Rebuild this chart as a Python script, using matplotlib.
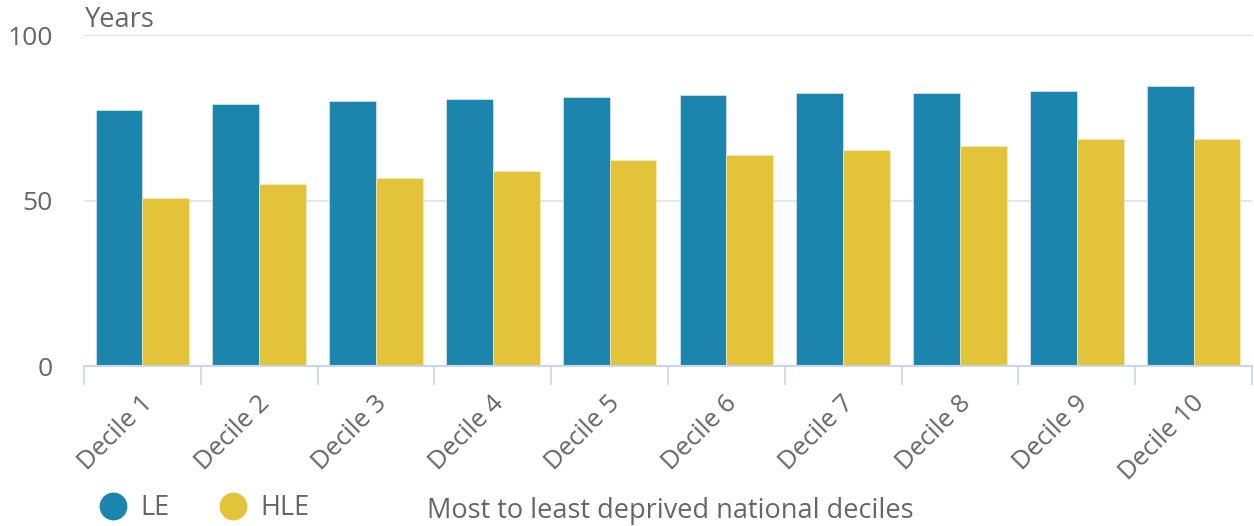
import numpy as np
import matplotlib
matplotlib.use("Agg")
import matplotlib.pyplot as plt
import matplotlib.transforms as mtransforms
from matplotlib.lines import Line2D

plt.rcParams['font.family'] = ['Open Sans', 'DejaVu Sans']

# Data
deciles = ['Decile 1', 'Decile 2', 'Decile 3', 'Decile 4', 'Decile 5',
           'Decile 6', 'Decile 7', 'Decile 8', 'Decile 9', 'Decile 10']
le = [77.3, 79.3, 80.0, 80.7, 81.3, 81.9, 82.6, 82.6, 83.3, 84.6]
hle = [50.9, 54.9, 56.9, 59.0, 62.3, 63.7, 65.2, 66.6, 68.5, 68.5]

le_color = '#1b85ad'
hle_color = '#e2c339'
text_color = '#666666'
axis_color = '#ccd6eb'

fig = plt.figure(figsize=(12.54, 5.26), dpi=100)
ax = fig.add_axes([84 / 1254, 1 - 366 / 526, (1252 - 84) / 1254, (366 - 35.3) / 526])

x = np.arange(len(deciles))
w = 0.4
ax.bar(x - w / 2, le, width=w, color=le_color, edgecolor='#e8f2f6', linewidth=0.4, zorder=3)
ax.bar(x + w / 2, hle, width=w, color=hle_color, edgecolor='#f8f0cc', linewidth=0.4, zorder=3)

ax.set_xlim(-0.5, len(deciles) - 0.5)
ax.set_ylim(0, 100)
ax.set_yticks([0, 50, 100])
ax.grid(axis='y', color='#e6e6e6', linewidth=1.5, zorder=0)

for side in ['top', 'right', 'left']:
    ax.spines[side].set_visible(False)
ax.spines['bottom'].set_color(axis_color)
ax.spines['bottom'].set_linewidth(1.5)
ax.spines['bottom'].set_zorder(4)

ax.tick_params(axis='y', length=0, pad=22.5, labelsize=19, labelcolor=text_color)
ax.set_xticks(x)
ax.set_xticklabels(deciles, rotation=45, ha='right', va='center', rotation_mode='anchor')
ax.tick_params(axis='x', which='major', length=0, pad=20, labelsize=18.5, labelcolor=text_color)
ax.set_xticks(np.arange(-0.5, len(deciles)), minor=True)
ax.tick_params(axis='x', which='minor', length=14, width=1.2, color=axis_color)

# nudge rotated labels to sit like the original
shift = mtransforms.ScaledTranslation(7 / 100, -6 / 100, fig.dpi_scale_trans)
for lbl in ax.get_xticklabels():
    lbl.set_transform(lbl.get_transform() + shift)

fig.text(85 / 1254, 1 - 20 / 526, 'Years', fontsize=19.5, color=text_color, va='center', ha='left')
fig.text(670 / 1254, 1 - 511 / 526, 'Most to least deprived national deciles',
         fontsize=19.5, color=text_color, va='center', ha='center')

handles = [Line2D([], [], marker='o', linestyle='', markersize=19, color=le_color),
           Line2D([], [], marker='o', linestyle='', markersize=19, color=hle_color)]
leg = fig.legend(handles, ['LE', 'HLE'], ncol=2, frameon=False, loc='center left',
                 bbox_to_anchor=(86 / 1254, 1 - 508 / 526), fontsize=19.5,
                 handlelength=1.0, handletextpad=0.5, columnspacing=1.85, borderpad=0)
for t in leg.get_texts():
    t.set_color(text_color)

fig.savefig('out.png', dpi=100)
